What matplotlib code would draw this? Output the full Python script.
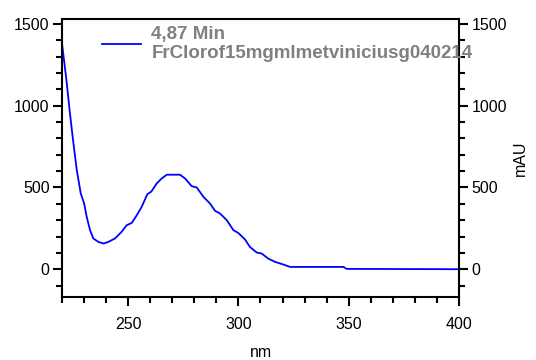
import matplotlib
matplotlib.use("Agg")
import matplotlib.pyplot as plt
from matplotlib.ticker import MultipleLocator

plt.rcParams['font.family'] = ['Liberation Sans', 'DejaVu Sans']

# spectrum
wavelength = [220, 222, 223.6, 225, 226.7, 228.5, 230, 231.2, 232.7, 234.2, 236.5, 238.8,
              241, 244, 247, 249.3, 251.6, 253.9, 256.1, 258.7, 260.5, 262.9, 265.2, 267.5,
              273.5, 275.8, 278.8, 281.1, 284.1, 287.1, 289.4, 291.6, 294.7, 297.7, 299.9,
              303, 305.2, 308.3, 310.5, 313.5, 316.6, 320.3, 323.4, 347.6, 349.1, 400]
absorb = [1380, 1157, 953, 790, 606, 463, 404, 320, 239, 188, 167, 157,
          167, 188, 228, 269, 283, 330, 381, 459, 475, 524, 555, 578,
          578, 555, 508, 500, 443, 402, 357, 341, 300, 239, 222,
          182, 136, 102, 96, 65, 45, 29, 14, 14, 2, 0]
label = "4,87 Min\nFrClorof15mgmlmetviniciusg040214"

fig = plt.figure(figsize=(5.36, 3.6), dpi=100)
ax = fig.add_axes([0.1157, 0.175, 0.7406, 0.772])
ax.plot(wavelength, absorb, color='#0000ff', lw=1.3, label=label)

ax.set_xlim(220, 400)
ax.set_ylim(-170, 1530)
ax.xaxis.set_major_locator(MultipleLocator(50))
ax.xaxis.set_minor_locator(MultipleLocator(10))
ax.yaxis.set_major_locator(MultipleLocator(500))
ax.yaxis.set_minor_locator(MultipleLocator(100))

for s in ax.spines.values():
    s.set_linewidth(1.5)
ax.tick_params(which='both', direction='out', width=1.5, labelsize=11.5,
               left=True, right=True, labelleft=True, labelright=True)
ax.tick_params(which='major', length=6.5)
ax.tick_params(which='minor', length=4)
ax.tick_params(axis='x', which='major', pad=8)
ax.tick_params(axis='y', which='major', pad=2.5)

ax.set_xlabel("nm", fontsize=11.5, labelpad=9)
ax.set_ylabel("mAU", fontsize=11.5, labelpad=4)
ax.yaxis.set_label_position('right')

leg = ax.legend(loc='upper left', bbox_to_anchor=(0.1, 0.975), frameon=False,
                borderpad=0, borderaxespad=0, handlelength=2.1, handletextpad=0.55,
                prop={'weight': 'bold', 'size': 13.5})
for t in leg.get_texts():
    t.set_color('#808080')
    t.set_linespacing(1.15)

fig.savefig("out.png", dpi=100)
